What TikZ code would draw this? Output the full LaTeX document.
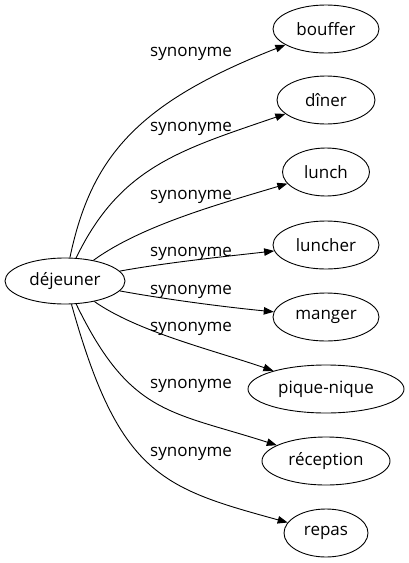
\documentclass[tikz,border=0pt]{standalone}
\usepackage{fontspec}
\setmainfont{Open Sans}
\usetikzlibrary{shapes.geometric,arrows.meta}
\tikzset{
  wnode/.style={draw, ellipse, inner sep=0pt, line width=0.9pt, font=\fontsize{17}{20}\selectfont},
  syn/.style={anchor=base west, inner sep=0pt, font=\fontsize{17}{20}\selectfont},
  link/.style={line width=0.9pt, -{Triangle[length=10pt,width=7.5pt]}}
}
\begin{document}
\begin{tikzpicture}[x=1pt,y=-1pt]
\useasboundingbox (0,0) rectangle (408,563);
\node[wnode, minimum width=120pt, minimum height=46pt] (dej) at (65,281) {déjeuner};
\node[wnode, minimum width=106pt, minimum height=48pt] (bouffer) at (326,29) {bouffer};
\node[wnode, minimum width=98pt, minimum height=48pt] (diner) at (326,100) {dîner};
\node[wnode, minimum width=87pt, minimum height=48pt] (lunch) at (326,172) {lunch};
\node[wnode, minimum width=106pt, minimum height=48pt] (luncher) at (326,245) {luncher};
\node[wnode, minimum width=106pt, minimum height=48pt] (manger) at (326,317) {manger};
\node[wnode, minimum width=156pt, minimum height=48pt] (pique) at (326,389) {pique-nique};
\node[wnode, minimum width=128pt, minimum height=48pt] (reception) at (326,461) {réception};
\node[wnode, minimum width=84pt, minimum height=48pt] (repas) at (326,533) {repas};

\draw[link] (dej) .. controls (91,157) and (137,103) .. (bouffer);
\draw[link] (dej) .. controls (120,167) and (180,150) .. (diner);
\draw[link] (dej) .. controls (142,225) and (223,203) .. (lunch);
\draw[link] (dej) .. controls (170,262) and (230,256) .. (luncher);
\draw[link] (dej) .. controls (170,300) and (225,307) .. (manger);
\draw[link] (dej) .. controls (138,332) and (213,350) .. (pique);
\draw[link] (dej) .. controls (130,415) and (170,411) .. (reception);
\draw[link] (dej) .. controls (119,475) and (162,488) .. (repas);

\node[syn] (l1) at (150,56.5) {synonyme};
\node[syn] (l2) at (150,131) {synonyme};
\node[syn] (l3) at (150,199) {synonyme};
\node[syn] (l4) at (150,256.5) {synonyme};
\node[syn] (l5) at (150,294) {synonyme};
\node[syn] (l6) at (150,331) {synonyme};
\node[syn] (l7) at (150,388) {synonyme};
\node[syn] (l8) at (150,456) {synonyme};
\end{tikzpicture}
\end{document}
